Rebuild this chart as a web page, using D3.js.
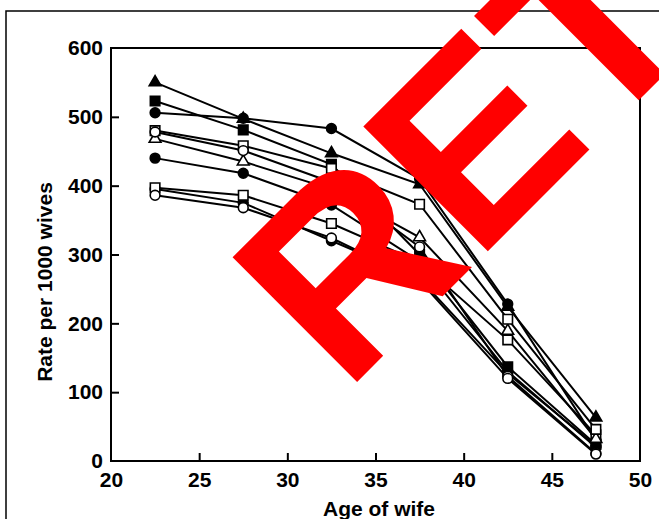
<!DOCTYPE html>
<html>
<head>
<meta charset="utf-8">
<script src="https://cdn.jsdelivr.net/npm/d3@7"></script>
<style>
  html, body { margin: 0; padding: 0; background: #fff; }
  svg { display: block; }
  text { font-family: "Liberation Sans", Arial, sans-serif; font-weight: bold; }
</style>
</head>
<body>
<div id="chart"></div>
<script>
// ---- data ----
const ages = [22.5, 27.5, 32.5, 37.5, 42.5, 47.5];
const xTicks = [20, 25, 30, 35, 40, 45, 50];
const yTicks = [0, 100, 200, 300, 400, 500, 600];
const xTitle = "Age of wife";
const yTitle = "Rate per 1000 wives";
const watermark = "RETRACTED";

const triFilled   = [550, 497, 447, 402, 224, 63];
const sqFilled    = [523, 481, 431, 300, 137, 24];
const circFilledA = [506, 498, 483, 410, 228, 30];
const sqOpenA     = [480, 458, 425, 373, 206, 46];
const circOpenA   = [478, 451, 405, 311, 123, 11];
const triOpen     = [468, 435, 395, 325, 189, 32];
const circFilledB = [440, 418, 372, 290, 130, 20];
const sqOpenB     = [397, 386, 345, 289, 176, 38];
const circFilledC = [395, 375, 320, 265, 127, 22];
const circOpenB   = [386, 368, 324, 262, 120, 10];

const series = [
  { values: triFilled,   shape: "triangle", filled: true },
  { values: sqFilled,    shape: "square",   filled: true },
  { values: circFilledA, shape: "circle",   filled: true },
  { values: circFilledB, shape: "circle",   filled: true },
  { values: circFilledC, shape: "circle",   filled: true },
  { values: sqOpenB,     shape: "square",   filled: false },
  { values: triOpen,     shape: "triangle", filled: false },
  { values: sqOpenA,     shape: "square",   filled: false },
  { values: circOpenA,   shape: "circle",   filled: false },
  { values: circOpenB,   shape: "circle",   filled: false }
];

// ---- layout ----
const W = 659, H = 519;
const svg = d3.select("#chart").append("svg").attr("width", W).attr("height", H);

const x = d3.scaleLinear().domain([20, 50]).range([111, 640]);
const y = d3.scaleLinear().domain([0, 600]).range([461, 48]);

// outer frame
svg.append("rect").attr("x", 6).attr("y", 11).attr("width", 720).attr("height", 620)
  .attr("fill", "none").attr("stroke", "#000").attr("stroke-width", 1.5);

// plot box
svg.append("rect").attr("x", x(20)).attr("y", y(600))
  .attr("width", x(50) - x(20)).attr("height", y(0) - y(600))
  .attr("fill", "none").attr("stroke", "#000").attr("stroke-width", 2);

// x axis
const gx = svg.append("g").attr("transform", `translate(0,${y(0)})`)
  .call(d3.axisBottom(x).tickValues(xTicks).tickSize(-8).tickPadding(11).tickFormat(d3.format("d")));
gx.select(".domain").remove();
gx.selectAll(".tick line").attr("stroke-width", 2)
  .filter(d => d === 20 || d === 50).remove();
gx.selectAll(".tick text").attr("font-size", 21).attr("fill", "#000")
  .attr("font-family", "Liberation Sans, Arial, sans-serif").attr("font-weight", "bold");

// y axis
const gy = svg.append("g").attr("transform", `translate(${x(20)},0)`)
  .call(d3.axisLeft(y).tickValues(yTicks).tickSize(-8).tickPadding(8).tickFormat(d3.format("d")));
gy.select(".domain").remove();
gy.selectAll(".tick line").attr("stroke-width", 2)
  .filter(d => d === 0 || d === 600).remove();
gy.selectAll(".tick text").attr("font-size", 21).attr("fill", "#000")
  .attr("font-family", "Liberation Sans, Arial, sans-serif").attr("font-weight", "bold");

// titles
svg.append("text").attr("x", 379).attr("y", 516).attr("text-anchor", "middle")
  .attr("font-size", 21).text(xTitle);
svg.append("text").attr("transform", "translate(52,282) rotate(-90)")
  .attr("text-anchor", "middle").attr("font-size", 21).text(yTitle);

// lines
const line = d3.line().x((d, i) => x(ages[i])).y(d => y(d));
svg.append("g").selectAll("path").data(series).join("path")
  .attr("d", s => line(s.values))
  .attr("fill", "none").attr("stroke", "#000").attr("stroke-width", 2);

// markers
const symbolFor = { circle: d3.symbolCircle, square: d3.symbolSquare, triangle: d3.symbolTriangle };
const sizeFor = { circle: 75, square: 90, triangle: 60 };
const mg = svg.append("g");
series.forEach(s => {
  mg.append("g").selectAll("path").data(s.values).join("path")
    .attr("transform", (d, i) => `translate(${x(ages[i])},${y(d)})`)
    .attr("d", d3.symbol().type(symbolFor[s.shape]).size(sizeFor[s.shape]))
    .attr("fill", s.filled ? "#000" : "#fff")
    .attr("stroke", "#000").attr("stroke-width", 1.6);
});

// watermark
svg.append("text").attr("transform", "translate(345,394) rotate(-45)")
  .attr("font-size", 256).attr("fill", "#ff0000").text(watermark);
</script>
</body>
</html>
